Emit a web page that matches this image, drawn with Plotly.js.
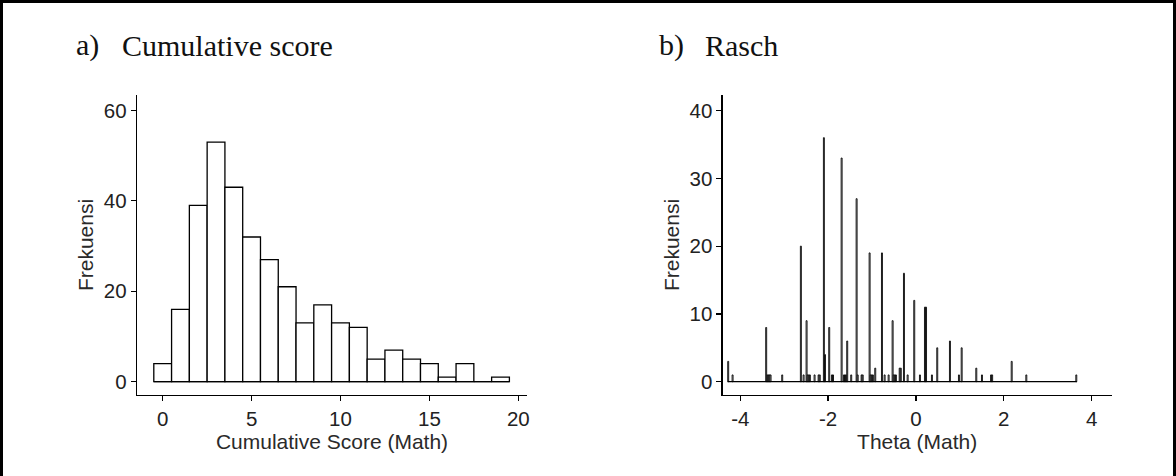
<!DOCTYPE html>
<html>
<head>
<meta charset="utf-8">
<script src="https://cdn.plot.ly/plotly-3.0.1.min.js"></script>
<style>
html,body{margin:0;padding:0;background:#fff;}
#chart{width:1176px;height:476px;}
</style>
</head>
<body>
<div id="chart"></div>
<script>
// ---- Data: a) cumulative score histogram (binwidth 1) ----
const scoreBins   = [0,1,2,3,4,5,6,7,8,9,10,11,12,13,14,15,16,17,18,19];
const scoreCounts = [4,16,39,53,43,32,27,21,13,17,13,12,5,7,5,4,1,4,0,1];
const scoreBinWidth = 1;

// ---- Data: b) Rasch theta histogram (narrow bins) ----
const thetaBins = [
  -4.275,-4.175,
  -3.41,-3.385,-3.36,-3.335,-3.31,
  -3.045,
  -2.62,-2.558,-2.49,-2.465,-2.44,-2.415,
  -2.308,-2.216,-2.19,
  -2.096,-2.071,
  -1.975,-1.913,-1.888,
  -1.692,-1.64,-1.615,-1.59,-1.565,
  -1.474,-1.351,-1.326,-1.237,-1.212,
  -1.055,-1.03,-1.005,-0.98,-0.927,
  -0.774,-0.713,-0.622,
  -0.531,-0.506,-0.481,-0.456,
  -0.37,-0.345,-0.273,-0.189,-0.039,
  0.091,0.205,0.23,0.364,0.485,
  0.774,0.979,1.041,1.374,1.503,1.71,1.735,
  2.18,2.513,3.651
];
const thetaCounts = [
  3,1,
  8,1,1,1,1,
  1,
  20,1,9,1,1,1,
  1,1,1,
  36,4,
  8,1,1,
  33,1,1,1,6,
  1,27,1,1,1,
  19,1,1,1,2,
  19,1,1,
  9,1,1,1,
  2,2,16,1,12,
  1,11,11,1,5,
  6,1,5,2,1,1,1,
  3,1,1
];
const thetaBinWidth = 0.022;

// ---- Text ----
const panelLabels = ['a)', 'b)'];
const panelTitles = ['Cumulative score', 'Rasch'];
const xTitles = ['Cumulative Score (Math)', 'Theta (Math)'];
const yTitle = 'Frekuensi';
const xTicks1 = [0,5,10,15,20];
const yTicks1 = [0,20,40,60];
const xTicks2 = [-4,-2,0,2,4];
const yTicks2 = [0,10,20,30,40];

const W = 1176, H = 476;
const px = v => v / W;
const py = v => 1 - v / H;

function barTrace(xs, ys, w, xa, ya, lw) {
  return {
    type: 'bar', x: xs, y: ys, width: xs.map(() => w),
    xaxis: xa, yaxis: ya,
    marker: {color: '#ffffff', line: {color: '#000000', width: lw}},
    hoverinfo: 'x+y', showlegend: false
  };
}
function baseLine(xs, w, xa, ya, lw) {
  const lo = Math.min(...xs) - w / 2, hi = Math.max(...xs) + w / 2;
  return {
    type: 'scatter', mode: 'lines', x: [lo, hi], y: [0, 0],
    xaxis: xa, yaxis: ya, line: {color: '#000000', width: lw},
    hoverinfo: 'skip', showlegend: false
  };
}

const traces = [
  baseLine(scoreBins, scoreBinWidth, 'x', 'y', 1.3),
  barTrace(scoreBins, scoreCounts, scoreBinWidth, 'x', 'y', 1.3),
  baseLine(thetaBins, thetaBinWidth, 'x2', 'y2', 1.3),
  barTrace(thetaBins, thetaCounts, thetaBinWidth, 'x2', 'y2', 0.9)
];

const tickFont = {family: 'Liberation Sans, Arial, sans-serif', size: 20.5, color: '#222222'};
const titleFont = {family: 'Liberation Sans, Arial, sans-serif', size: 21, color: '#2a2a2a'};

function xAxis(domain, range, ticks, title, anchor) {
  return {
    domain: domain, range: range, anchor: anchor,
    tickvals: ticks, ticktext: ticks.map(String),
    showline: true, linecolor: '#000', linewidth: 1.3,
    ticks: 'outside', ticklen: 5, tickwidth: 1.3, tickcolor: '#000',
    showgrid: false, zeroline: false, tickfont: tickFont,
    title: {text: title, font: titleFont, standoff: 5},
    fixedrange: true
  };
}
function yAxis(domain, range, ticks, title, anchor) {
  return {
    domain: domain, range: range, anchor: anchor,
    tickvals: ticks, ticktext: ticks.map(String),
    showline: true, linecolor: '#000', linewidth: 1.3,
    ticks: 'outside', ticklen: 5, tickwidth: 1.3, tickcolor: '#000',
    showgrid: false, zeroline: false, tickfont: tickFont,
    title: {text: title, font: titleFont, standoff: 4},
    fixedrange: true
  };
}

const headFont = {family: 'Liberation Serif, Times New Roman, serif', size: 30, color: '#111'};
const annotations = [
  {text: panelLabels[0], x: px(74), y: py(45), xref: 'paper', yref: 'paper', xanchor: 'left', yanchor: 'middle', showarrow: false, font: headFont},
  {text: panelTitles[0], x: px(120), y: py(45), xref: 'paper', yref: 'paper', xanchor: 'left', yanchor: 'middle', showarrow: false, font: headFont},
  {text: panelLabels[1], x: px(657), y: py(45), xref: 'paper', yref: 'paper', xanchor: 'left', yanchor: 'middle', showarrow: false, font: headFont},
  {text: panelTitles[1], x: px(703), y: py(45), xref: 'paper', yref: 'paper', xanchor: 'left', yanchor: 'middle', showarrow: false, font: headFont}
];

const shapes = [
  {type: 'line', xref: 'paper', yref: 'paper', x0: 0, x1: 1, y0: py(1.5), y1: py(1.5), line: {color: '#000', width: 3}},
  {type: 'line', xref: 'paper', yref: 'paper', x0: px(1.5), x1: px(1.5), y0: 0, y1: 1, line: {color: '#000', width: 3}},
  {type: 'line', xref: 'paper', yref: 'paper', x0: px(1174.5), x1: px(1174.5), y0: 0, y1: 1, line: {color: '#000', width: 3}}
];

const layout = {
  width: W, height: H,
  margin: {l: 0, r: 0, t: 0, b: 0},
  paper_bgcolor: '#ffffff', plot_bgcolor: '#ffffff',
  bargap: 0, barmode: 'overlay',
  showlegend: false,
  xaxis:  xAxis([px(137), px(527)], [-1.445, 20.49], xTicks1, xTitles[0], 'y'),
  yaxis:  yAxis([py(395), py(95)], [-2.94, 63.4], yTicks1, yTitle, 'x'),
  xaxis2: xAxis([px(722.7), px(1111.7)], [-4.40, 4.457], xTicks2, xTitles[1], 'y2'),
  yaxis2: yAxis([py(395), py(95)], [-1.96, 42.3], yTicks2, yTitle, 'x2'),
  annotations: annotations,
  shapes: shapes
};

Plotly.newPlot('chart', traces, layout, {displayModeBar: false, staticPlot: true});
</script>
</body>
</html>
